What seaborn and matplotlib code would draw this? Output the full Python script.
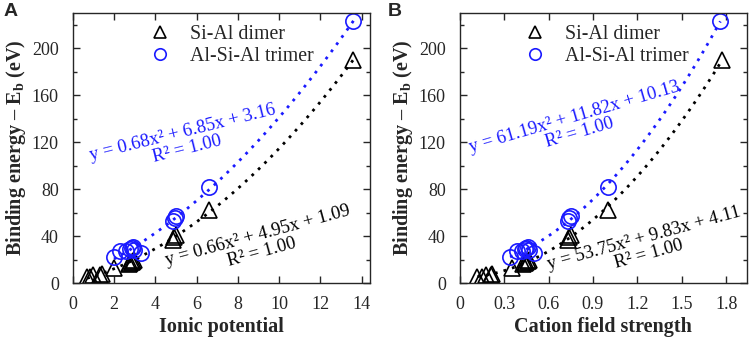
import numpy as np
import pandas as pd
import matplotlib
matplotlib.use('Agg')
import matplotlib.pyplot as plt
from matplotlib.ticker import MultipleLocator, FuncFormatter
import seaborn as sns

# values
dimer_ip = [0.7, 0.85, 1.0, 1.3, 1.4, 2.0, 2.75, 2.8, 2.85, 2.9, 2.95, 4.85, 4.9, 5.0, 6.6, 13.6]
dimer_cfs = [0.12, 0.15, 0.18, 0.21, 0.22, 0.35, 0.43, 0.44, 0.45, 0.46, 0.47, 0.73, 0.74, 0.75, 1.0, 1.77]
dimer_eb = [5, 5, 7, 7, 8, 13, 16, 17, 18, 19, 20, 37, 39, 41, 62, 190]

trimer_ip = [2.0, 2.3, 2.6, 2.8, 2.85, 2.9, 2.95, 3.3, 4.85, 4.95, 5.0, 6.6, 13.6]
trimer_cfs = [0.34, 0.39, 0.42, 0.44, 0.45, 0.46, 0.47, 0.5, 0.73, 0.74, 0.75, 1.0, 1.76]
trimer_eb = [22, 27, 27, 29, 30, 31, 28, 26, 53, 55, 57, 82, 223]

eq_a = ['y = 0.66x² + 4.95x + 1.09', 'y = 0.68x² + 6.85x + 3.16']
eq_b = ['y = 53.75x² + 9.83x + 4.11', 'y = 61.19x² + 11.82x + 10.13']

sns.set_style('ticks')
plt.rcParams['font.family'] = ['Liberation Serif', 'DejaVu Serif']
plt.rcParams['mathtext.fontset'] = 'custom'
plt.rcParams['mathtext.rm'] = 'Liberation Serif'
plt.rcParams['mathtext.bf'] = 'Liberation Serif:bold'

df_dimer = pd.DataFrame({'ip': dimer_ip, 'cfs': dimer_cfs, 'eb': dimer_eb})
df_trimer = pd.DataFrame({'ip': trimer_ip, 'cfs': trimer_cfs, 'eb': trimer_eb})

fig = plt.figure(figsize=(7.54, 3.39), dpi=100)
ax_a = fig.add_axes([0.0964, 0.165, 0.3943, 0.7967])
ax_b = fig.add_axes([0.6097, 0.165, 0.3810, 0.7967])

blue = '#1a1aff'


def draw_panel(ax, xcol, eqs, eq_pos, angles, xlim, xmajor, xlabel, leg_x):
    # fitted quadratic trend lines
    sns.regplot(data=df_dimer, x=xcol, y='eb', order=2, ci=None, scatter=False, ax=ax,
                line_kws=dict(color='black', lw=2, linestyle=(0, (1, 2.2))))
    sns.regplot(data=df_trimer, x=xcol, y='eb', order=2, ci=None, scatter=False, ax=ax,
                line_kws=dict(color=blue, lw=2, linestyle=(0, (1, 2.2))))
    ax.plot(df_dimer[xcol], df_dimer['eb'], linestyle='none', marker='^', ms=11,
            mfc='none', mec='black', mew=1.2, label='Si-Al dimer')
    ax.plot(df_trimer[xcol], df_trimer['eb'], linestyle='none', marker='o', ms=11,
            mfc='none', mec=blue, mew=1.2, label='Al-Si-Al trimer')

    ax.set_xlim(*xlim)
    ax.set_ylim(0, 230)
    ax.xaxis.set_major_locator(MultipleLocator(xmajor))
    ax.xaxis.set_major_formatter(FuncFormatter(lambda v, p: '0' if abs(v) < 1e-9 else f'{v:g}'))
    ax.yaxis.set_major_locator(MultipleLocator(40))
    ax.yaxis.set_minor_locator(MultipleLocator(20))
    ax.tick_params(which='both', direction='in', top=True, right=True, labelsize=13)
    ax.tick_params(which='major', length=5, width=1)
    ax.tick_params(which='minor', length=3, width=1)
    ax.tick_params(axis='y', pad=10)
    ax.tick_params(axis='x', pad=9)
    for s in ax.spines.values():
        s.set_linewidth(1)
    ax.set_xlabel(xlabel, fontsize=14.5, fontweight='bold', labelpad=3)
    ax.set_ylabel('Binding energy – E$_{\\mathbf{b}}$ (eV)', fontsize=14.5, fontweight='bold', labelpad=3)

    ax.legend(loc='upper left', bbox_to_anchor=(leg_x, 0.985), frameon=False,
              fontsize=14.3, handletextpad=0.9, labelspacing=0.15, handlelength=1.2,
              borderaxespad=0, borderpad=0.4, markerscale=0.75)

    colors = ['black', blue]
    for i in range(2):
        ax.text(*eq_pos[i], eqs[i] + '\nR² = 1.00', transform=ax.transAxes, rotation=angles[i],
                color=colors[i], fontsize=13.4, ha='center', va='center', ma='center',
                linespacing=1.0, rotation_mode='anchor')


draw_panel(ax_a, 'ip', eq_a, [(0.630, 0.144), (0.378, 0.526)],
           [15.3, 14], (0, 14.4), 2, 'Ionic potential', 0.226)
draw_panel(ax_b, 'cfs', eq_b, [(0.65, 0.135), (0.408, 0.585)],
           [15.4, 16.3], (0, 1.94), 0.3, 'Cation field strength', 0.193)

fig.text(0.004, 0.99, 'A', fontsize=14, fontweight='bold', family='Liberation Sans', va='top')
fig.text(0.514, 0.99, 'B', fontsize=14, fontweight='bold', family='Liberation Sans', va='top')

fig.savefig('out.png', dpi=100)
